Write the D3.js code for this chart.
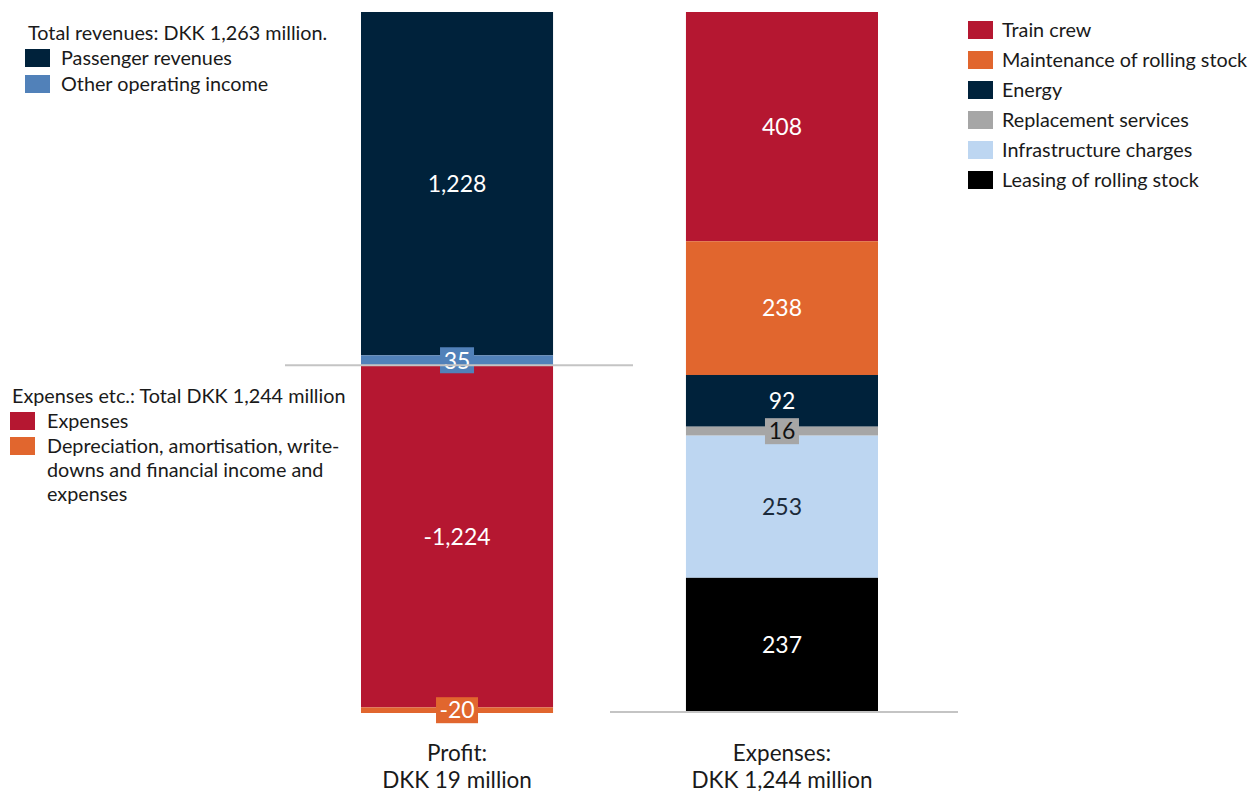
<!DOCTYPE html>
<html>
<head>
<meta charset="utf-8">
<script src="https://cdn.jsdelivr.net/npm/d3@7"></script>
<style>
  body { margin: 0; background: #fff; }
  text { font-family: Lato, "Noto Sans", sans-serif; }
</style>
</head>
<body>
<div id="chart"></div>
<script>
var width = 1249,
    height = 794;

// left bar: profit
var profitCats = ["Passenger revenues", "Other operating income", "Expenses",
  "Depreciation, amortisation, write-downs and financial income and expenses"];
var profitVals = [1228, 35, -1224, -20];
var profitColors = ["#00223b", "#5181b9", "#b51731", "#e1662e"];

// right bar: expenses
var expenseCats = ["Train crew", "Maintenance of rolling stock", "Energy",
  "Replacement services", "Infrastructure charges", "Leasing of rolling stock"];
var expenseVals = [408, 238, 92, 16, 253, 237];
var expenseColors = ["#b51731", "#e1662e", "#00223b", "#a6a6a6", "#bdd6f1", "#000000"];

var barNames = ["Profit:", "Expenses:"];
var barSubs = ["DKK 19 million", "DKK 1,244 million"];

var svg = d3.select("#chart")
    .append("svg")
    .attr("width", width)
    .attr("height", height);

var x = d3.scaleBand()
    .domain(barNames)
    .range([361, 878])
    .paddingInner(0.409);

var yL = d3.scaleLinear().domain([-1244, 1263]).range([713, 12]);
var yR = d3.scaleLinear().domain([0, 1244]).range([711, 12]);

// stack the profit segments: positives grow up from the base (last one nearest 0),
// negatives grow down
var posTotal = d3.sum(profitVals.filter(function(v) { return v > 0; }));
var pos = posTotal, neg = 0;
var profitSegs = profitVals.map(function(v, i) {
  var s;
  if (v >= 0) { s = {y0: pos - v, y1: pos}; pos -= v; }
  else { s = {y0: neg + v, y1: neg}; neg += v; }
  s.v = v; s.c = profitColors[i]; s.small = Math.abs(v) < 50;
  return s;
});

// stack the expense segments from the top down
var total = d3.sum(expenseVals), acc = total;
var expenseSegs = expenseVals.map(function(v, i) {
  var s = {y0: acc - v, y1: acc, v: v, c: expenseColors[i], small: v < 50,
           dark: i === 3 || i === 4};
  acc -= v;
  return s;
});

function fmt(v) { return d3.format(",")(v).replace("\u2212", "-"); }

function drawBar(segs, y, name) {
  var g = svg.append("g");
  var x0 = x(name), bw = x.bandwidth();
  g.selectAll("rect")
    .data(segs)
    .enter().append("rect")
    .attr("x", x0)
    .attr("width", bw)
    .attr("y", function(d) { return y(d.y1); })
    .attr("height", function(d) { return y(d.y0) - y(d.y1); })
    .attr("fill", function(d) { return d.c; });

  var lab = g.selectAll("g.lab")
    .data(segs)
    .enter().append("g")
    .attr("class", "lab")
    .attr("transform", function(d) {
      return "translate(" + (x0 + bw / 2) + "," + ((y(d.y0) + y(d.y1)) / 2) + ")";
    });
  lab.filter(function(d) { return d.small; })
    .append("rect")
    .attr("x", function(d) { return String(d.v).length > 2 ? -21 : -17; })
    .attr("width", function(d) { return String(d.v).length > 2 ? 42 : 34; })
    .attr("y", -13)
    .attr("height", 26)
    .attr("fill", function(d) { return d.c; });
  lab.append("text")
    .attr("text-anchor", "middle")
    .attr("dy", "0.36em")
    .attr("font-size", 23)
    .attr("fill", function(d) {
      if (d.dark && d.small) return "#111";
      return d.dark ? "#1b2a3a" : "#fff";
    })
    .text(function(d) { return fmt(d.v); });
}

drawBar(profitSegs, yL, barNames[0]);
drawBar(expenseSegs, yR, barNames[1]);

// base lines
svg.append("line")
  .attr("x1", 285).attr("x2", 633)
  .attr("y1", yL(0)).attr("y2", yL(0))
  .attr("stroke", "#c4c4c4").attr("stroke-width", 2);
svg.append("line")
  .attr("x1", 610).attr("x2", 958)
  .attr("y1", yR(0) + 1).attr("y2", yR(0) + 1)
  .attr("stroke", "#c4c4c4").attr("stroke-width", 2);

// bar captions, two lines each
barNames.forEach(function(n, i) {
  var cx = x(n) + x.bandwidth() / 2;
  [n, barSubs[i]].forEach(function(s, j) {
    svg.append("text")
      .attr("text-anchor", "middle")
      .attr("font-size", 22.5)
      .attr("fill", "#1a1a1a")
      .attr("x", cx)
      .attr("y", 761 + j * 27)
      .text(s);
  });
});

// legends
function legend(gx, gy, title, cats, colors, step, tx, lines) {
  var g = svg.append("g").attr("transform", "translate(" + gx + "," + gy + ")");
  var top = 0;
  if (title) {
    g.append("text").attr("x", title.dx).attr("y", 0)
      .attr("font-size", 19.8).attr("fill", "#1a1a1a").text(title.text);
    top = title.gap;
  }
  var yy = top;
  cats.forEach(function(c, i) {
    var parts = lines && lines[i] ? lines[i] : [c];
    g.append("rect").attr("x", 0).attr("y", yy).attr("width", 25).attr("height", 18)
      .attr("fill", colors[i]);
    var t = g.append("text").attr("x", tx).attr("y", yy + 16)
      .attr("font-size", 19.8).attr("fill", "#1a1a1a");
    parts.forEach(function(p, j) {
      t.append("tspan").attr("x", tx).attr("dy", j ? 24 : 0).text(p);
    });
    yy += step;
  });
}

legend(25, 40, {text: "Total revenues: DKK 1,263 million.", dx: 3, gap: 9},
  profitCats.slice(0, 2), profitColors.slice(0, 2), 26, 36);
legend(10, 403, {text: "Expenses etc.: Total DKK 1,244 million", dx: 2, gap: 9},
  profitCats.slice(2), profitColors.slice(2), 25, 37,
  [null, ["Depreciation, amortisation, write-", "downs and financial income and", "expenses"]]);
legend(968, 21, null, expenseCats, expenseColors, 30, 34);
</script>
</body>
</html>
